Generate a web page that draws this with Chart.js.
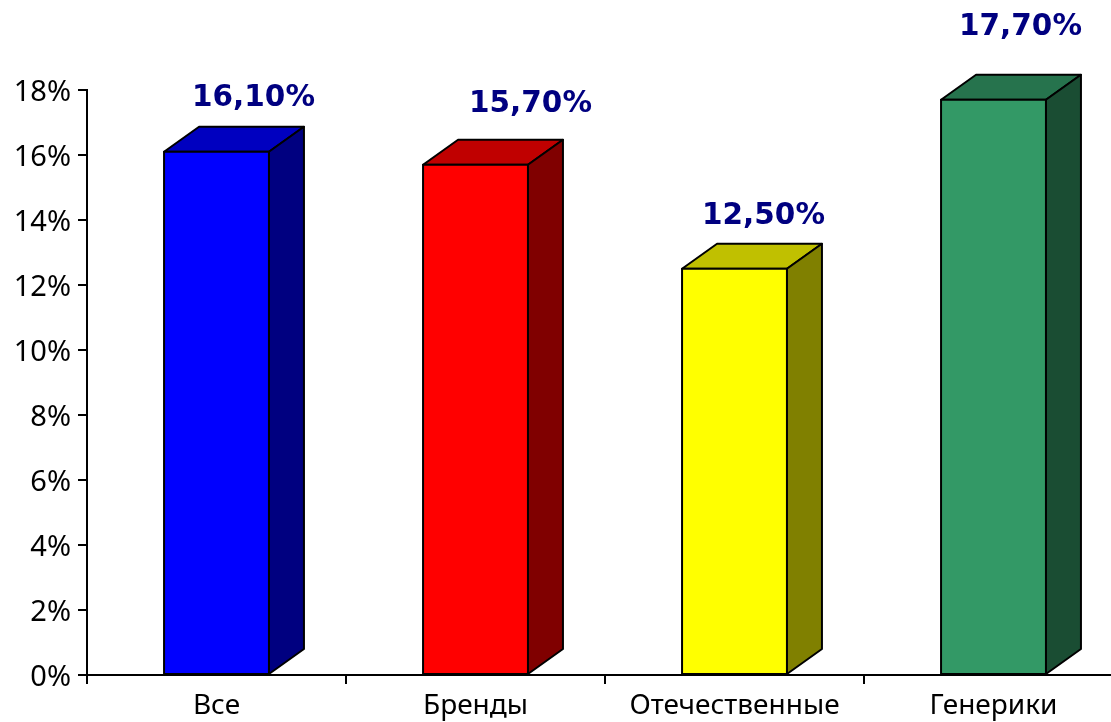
<!DOCTYPE html>
<html>
<head>
<meta charset="utf-8">
<style>
  html, body { margin: 0; padding: 0; background: #fff; overflow: hidden; }
  #wrap { position: relative; width: 1123px; height: 722px; }
</style>
<script src="https://cdn.jsdelivr.net/npm/chart.js@4"></script>
</head>
<body>
<div id="wrap"><canvas id="chart"></canvas></div>
<script>
const categories = ['Все', 'Бренды', 'Отечественные', 'Генерики'];
const shares = [16.1, 15.7, 12.5, 17.7];
const valueLabels = ['16,10%', '15,70%', '12,50%', '17,70%'];
const frontColors = ['#0000ff', '#ff0000', '#ffff00', '#339966'];
const topColors = ['#0000c0', '#c00000', '#c0c000', '#26734d'];
const sideColors = ['#000080', '#800000', '#808000', '#1a4d33'];

const DEPTH_X = 35, DEPTH_Y = 25;
const LABEL_OFFSETS = [[37, -53], [55, -60], [29, -52], [27, -72]];
const LABEL_FONT = 'bold 29.5px "DejaVu Sans"';
const EDGE = 2;

// Extrudes each bar with a top and a side face, then writes its value label.
const extrude = {
  id: 'extrude',
  afterDatasetsDraw(chart) {
    const ctx = chart.ctx;
    const bars = chart.getDatasetMeta(0).data;
    const polygon = (pts, fill) => {
      ctx.beginPath();
      pts.forEach((p, i) => i ? ctx.lineTo(p[0], p[1]) : ctx.moveTo(p[0], p[1]));
      ctx.closePath();
      ctx.fillStyle = fill;
      ctx.fill();
      ctx.stroke();
    };
    ctx.save();
    ctx.strokeStyle = '#000';
    ctx.lineWidth = EDGE;
    ctx.lineJoin = 'round';
    bars.forEach((bar, i) => {
      const half = bar.width / 2;
      const l = bar.x - half, r = bar.x + half, t = bar.y, b = bar.base;
      polygon([[l, t], [l + DEPTH_X, t - DEPTH_Y], [r + DEPTH_X, t - DEPTH_Y], [r, t]], topColors[i]);
      polygon([[r, t], [r + DEPTH_X, t - DEPTH_Y], [r + DEPTH_X, b - DEPTH_Y], [r, b]], sideColors[i]);
      polygon([[l, t], [r, t], [r, b], [l, b]], frontColors[i]);
      ctx.fillStyle = '#000080';
      ctx.font = LABEL_FONT;
      ctx.textAlign = 'center';
      ctx.textBaseline = 'middle';
      ctx.fillText(valueLabels[i], bar.x + LABEL_OFFSETS[i][0], t + LABEL_OFFSETS[i][1]);
    });
    ctx.restore();
  }
};

// Nudges the value-axis labels down so the digits sit centred on their ticks.
function lowerTickLabels(scale) {
  if (scale.labelsLowered) return;
  scale.labelsLowered = true;
  const compute = scale._computeLabelItems;
  scale._computeLabelItems = function (area) {
    const items = compute.call(this, area);
    items.forEach(item => { item.options.translation[1] += 3; });
    return items;
  };
}

new Chart(document.getElementById('chart'), {
  type: 'bar',
  data: {
    labels: categories,
    datasets: [{
      data: shares,
      backgroundColor: frontColors,
      categoryPercentage: 1,
      barPercentage: 0.405
    }]
  },
  plugins: [extrude],
  options: {
    responsive: true,
    maintainAspectRatio: false,
    animation: false,
    layout: { padding: { top: 90, left: 0, right: 0, bottom: 0 } },
    plugins: { legend: { display: false }, tooltip: { enabled: false } },
    scales: {
      x: {
        offset: true,
        afterFit(s) { s.height = 47; },
        border: { color: '#000', width: 2 },
        grid: { drawOnChartArea: false, drawTicks: true, tickLength: 9, color: '#000', lineWidth: 2 },
        ticks: { color: '#000', font: { family: '"Noto Sans"', size: 28 }, padding: 5, maxRotation: 0, autoSkip: false }
      },
      y: {
        min: 0,
        max: 18,
        afterFit(s) { s.width = 87; lowerTickLabels(s); },
        border: { color: '#000', width: 2 },
        grid: { drawOnChartArea: false, drawTicks: true, tickLength: 9, color: '#000', lineWidth: 2 },
        ticks: { color: '#000', font: { family: '"Noto Sans"', size: 29 }, stepSize: 2, padding: 7, callback: v => v + '%' }
      }
    }
  }
});
</script>
</body>
</html>
